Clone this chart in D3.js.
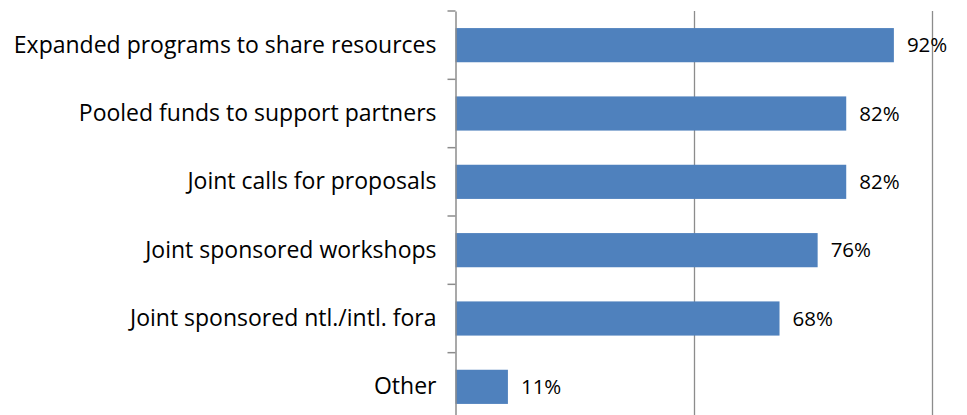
<!DOCTYPE html>
<html>
<head>
<meta charset="utf-8">
<script src="https://cdn.jsdelivr.net/npm/d3@7"></script>
<style>
  html, body { margin: 0; padding: 0; background: #fff; }
  svg { display: block; }
</style>
</head>
<body>
<svg id="chart" width="967" height="415"></svg>
<script>
// Collaboration mechanisms, share of respondents
const categories = [
  'Expanded programs to share resources',
  'Pooled funds to support partners',
  'Joint calls for proposals',
  'Joint sponsored workshops',
  'Joint sponsored ntl./intl. fora',
  'Other'
];
const values = [92, 82, 82, 76, 68, 11];
const gridTicks = [50, 100];

const svg = d3.select('#chart');
const font = '"Open Sans", Lato, sans-serif';

const x = d3.scaleLinear().domain([0, 100]).range([455.5, 932]);
const y = d3.scaleBand().domain(categories).range([11, 421]).paddingInner(0.5).paddingOuter(0.25);

// gridlines
svg.selectAll('line.grid').data(gridTicks).enter().append('line')
  .attr('class', 'grid')
  .attr('x1', d => Math.round(x(d)) + 0.5).attr('x2', d => Math.round(x(d)) + 0.5)
  .attr('y1', 11).attr('y2', 421)
  .attr('stroke', '#8c8c8c').attr('stroke-width', 1.3);

// bars
svg.selectAll('rect.bar').data(values).enter().append('rect')
  .attr('class', 'bar')
  .attr('x', x(0))
  .attr('y', (d, i) => y(categories[i]))
  .attr('width', d => x(d) - x(0))
  .attr('height', y.bandwidth())
  .attr('fill', '#4f81bd');

// category axis
const axis = d3.axisLeft(y).tickSize(0).tickPadding(19);
const ga = svg.append('g').attr('transform', `translate(${x(0)},0)`).call(axis);
ga.select('.domain').attr('stroke', '#8c8c8c').attr('stroke-width', 1.5);
ga.selectAll('text').attr('font-family', font).attr('font-size', 23).attr('fill', '#000');

// band boundary ticks
const step = y.step();
const bounds = d3.range(categories.length + 1).map(i => 11 + i * step);
svg.selectAll('line.btick').data(bounds).enter().append('line')
  .attr('class', 'btick')
  .attr('x1', x(0) - 8).attr('x2', x(0))
  .attr('y1', d => d).attr('y2', d => d)
  .attr('stroke', '#8c8c8c').attr('stroke-width', 1.5);

// value labels
svg.selectAll('text.val').data(values).enter().append('text')
  .attr('class', 'val')
  .attr('x', d => x(d) + 13)
  .attr('y', (d, i) => y(categories[i]) + y.bandwidth() / 2)
  .attr('dy', '0.35em')
  .attr('font-family', font).attr('font-size', 20.5).attr('fill', '#000')
  .text(d => d + '%');
</script>
</body>
</html>
